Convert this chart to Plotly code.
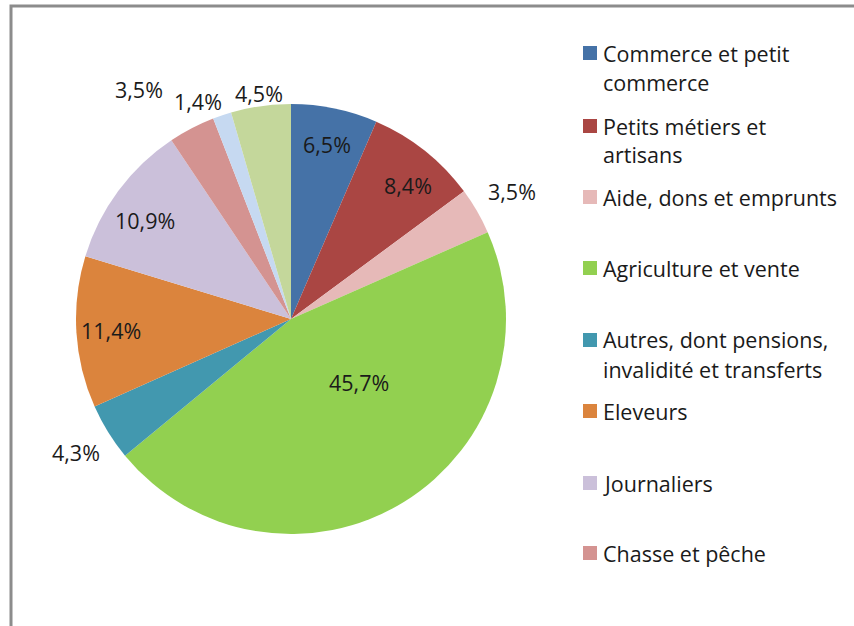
import math
import plotly.graph_objects as go

# Sources de revenus des ménages (%)
labels = [
    "Commerce et petit commerce",
    "Petits métiers et artisans",
    "Aide, dons et emprunts",
    "Agriculture et vente",
    "Autres, dont pensions, invalidité et transferts",
    "Eleveurs",
    "Journaliers",
    "Chasse et pêche",
    "Catégorie 9",
    "Catégorie 10",
]
values = [6.5, 8.4, 3.5, 45.7, 4.3, 11.4, 10.9, 3.5, 1.4, 4.5]
colors = [
    "#4572A7", "#AA4643", "#E6B9B8", "#92D050", "#4298AF",
    "#DB843D", "#CBC0DA", "#D49391", "#C6D9F1", "#C4D79B",
]

# Value-label placement: distance from pie centre (px) and angular nudge (deg)
label_dist = [178, 177, 255, 93, 253, 180, 176, 275, 237, 228]
label_nudge = [0, 2.8, 0, -15.6, 0, 0, -2.7, -6, -4.5, 0]

# Legend rows: lines of text per entry (only the visible entries)
legend_lines = [
    ["Commerce et petit", "commerce"],
    ["Petits métiers et", "artisans"],
    ["Aide, dons et emprunts"],
    ["Agriculture et vente"],
    ["Autres, dont pensions,", "invalidité et transferts"],
    ["Eleveurs"],
    ["Journaliers"],
    ["Chasse et pêche"],
]
legend_y = [53, 126, 197, 268, 340, 411, 483, 553]

W, H = 854, 626
FONT = "Open Sans"
FS = 21.5
TXT = "#1a1a1a"
CX, CY, R = 291, 319, 215

fig = go.Figure(go.Pie(
    labels=labels,
    values=values,
    sort=False,
    direction="clockwise",
    rotation=0,
    marker=dict(colors=colors, line=dict(width=0)),
    textposition="none",
    showlegend=False,
    domain=dict(x=[(CX - R) / W, (CX + R) / W], y=[1 - (CY + R) / H, 1 - (CY - R) / H]),
    hoverinfo="label+percent",
))

shapes = []
annotations = []
# chart frame (left and top edges visible)
shapes.append(dict(type="rect", xref="paper", yref="paper",
                   x0=11 / W, x1=1.2, y0=-0.2, y1=1 - 6 / H,
                   line=dict(color="#8c8c8c", width=3)))

# value labels, positioned along each slice's mid angle
total = sum(values)
cum = 0.0
for v, d, nudge in zip(values, label_dist, label_nudge):
    mid = (cum + v / 2) / total * 360 + nudge
    cum += v
    th = math.radians(mid)
    px = CX + d * math.sin(th)
    py = CY - d * math.cos(th)
    annotations.append(dict(
        xref="paper", yref="paper", x=px / W, y=1 - py / H,
        xanchor="center", yanchor="middle", showarrow=False,
        text=f"{v:.1f}%".replace(".", ","),
        font=dict(family=FONT, size=FS, color=TXT),
    ))

for lines, yc, col in zip(legend_lines, legend_y, colors):
    shapes.append(dict(type="rect", xref="paper", yref="paper",
                       x0=583 / W, x1=597 / W,
                       y0=1 - (yc + 7) / H, y1=1 - (yc - 7) / H,
                       fillcolor=col, line=dict(width=0)))
    for k, line in enumerate(lines):
        annotations.append(dict(
            xref="paper", yref="paper",
            x=601 / W, y=1 - (yc + 29 * k) / H,
            xanchor="left", yanchor="middle",
            text=line, showarrow=False,
            font=dict(family=FONT, size=FS, color=TXT),
        ))

fig.update_layout(
    width=W, height=H,
    margin=dict(l=0, r=0, t=0, b=0),
    paper_bgcolor="white",
    shapes=shapes,
    annotations=annotations,
)

fig.write_html("out.html")
